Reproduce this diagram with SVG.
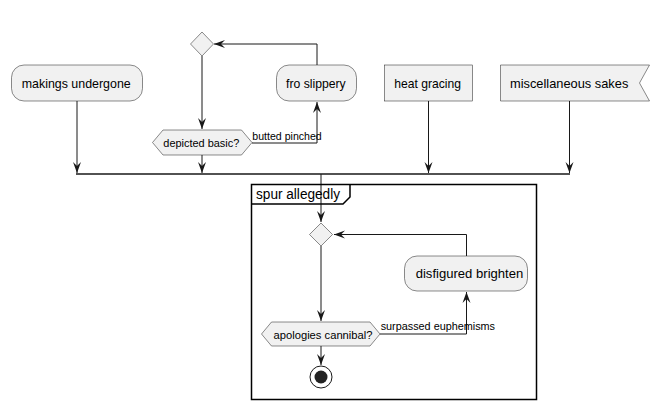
<svg xmlns="http://www.w3.org/2000/svg" width="670" height="409" viewBox="0 0 670 409">
<defs>
<style>
.n{fill:#F1F1F1;stroke:#181818;stroke-width:0.5}
.t{font-family:"Liberation Sans",Arial,sans-serif;font-size:12.8px;fill:#000}
.h{font-family:"Liberation Sans",Arial,sans-serif;font-size:11.2px;fill:#000}
.l{font-family:"Liberation Sans",Arial,sans-serif;font-size:11px;fill:#000}
.e{fill:none;stroke:#181818;stroke-width:1}
</style>
<marker id="ah" viewBox="0 0 12 10" refX="11" refY="5" markerWidth="12" markerHeight="10" markerUnits="userSpaceOnUse" orient="auto">
<path d="M0,1 L11,5 L0,9 L4,5 Z" fill="#181818"/>
</marker>
</defs>
<rect width="670" height="409" fill="#FFFFFF"/>
<g id="connectors">
<line x1="76" y1="174" x2="570" y2="174" stroke="#181818" stroke-width="1.5"/>
<path class="e" d="M77,101 L77,173" marker-end="url(#ah)"/>
<path class="e" d="M202,56 L202,129" marker-end="url(#ah)"/>
<path class="e" d="M202,155 L202,173" marker-end="url(#ah)"/>
<path class="e" d="M252,143 L317,143 L317,102" marker-end="url(#ah)"/>
<text class="l" x="252.3" y="140" textLength="69.4" lengthAdjust="spacingAndGlyphs">butted pinched</text>
<path class="e" d="M317,65 L317,44 L214,44" marker-end="url(#ah)"/>
<path class="e" d="M428.5,101 L428.5,173" marker-end="url(#ah)"/>
<path class="e" d="M569.5,101 L569.5,173" marker-end="url(#ah)"/>
<path class="e" d="M321,174 L321,222" marker-end="url(#ah)"/>
<path class="e" d="M321,246 L321,321" marker-end="url(#ah)"/>
<path class="e" d="M380,334 L466.5,334 L466.5,292" marker-end="url(#ah)"/>
<text class="l" x="380.7" y="330" textLength="114.3" lengthAdjust="spacingAndGlyphs">surpassed euphemisms</text>
<path class="e" d="M466.5,256 L466.5,234.5 L334,234.5" marker-end="url(#ah)"/>
<path class="e" d="M321,346 L321,365" marker-end="url(#ah)"/>
</g>
<g id="frame">
<rect x="251.5" y="184.5" width="285" height="215" fill="none" stroke="#000" stroke-width="1.5"/>
<path d="M251.5,204 L343,204 L350,197 L350,184.5" fill="none" stroke="#000" stroke-width="1.5"/>
<text x="256" y="199" font-family="Liberation Sans,Arial,sans-serif" font-size="14" fill="#000" textLength="84" lengthAdjust="spacingAndGlyphs">spur allegedly</text>
</g>
<g id="merge1"><polygon class="n" points="202,32 213.5,44 202,56 190.5,44"/></g>
<g id="makings"><rect class="n" x="11.5" y="65" width="131" height="36" rx="12.5"/><text class="t" x="21.7" y="88" textLength="109" lengthAdjust="spacingAndGlyphs">makings undergone</text></g>
<g id="fro"><rect class="n" x="276.5" y="65" width="80" height="36" rx="12.5"/><text class="t" x="286" y="88" textLength="59.7" lengthAdjust="spacingAndGlyphs">fro slippery</text></g>
<g id="heat"><rect class="n" x="384.5" y="65" width="88" height="36"/><text class="t" x="394.3" y="88" textLength="66.7" lengthAdjust="spacingAndGlyphs">heat gracing</text></g>
<g id="misc"><polygon class="n" points="500.5,65 649.5,65 639.5,83 649.5,101 500.5,101"/><text class="t" x="510" y="88" textLength="118.3" lengthAdjust="spacingAndGlyphs">miscellaneous sakes</text></g>
<g id="depicted"><polygon class="n" points="152.5,142.5 163,130 241.5,130 252,142.5 241.5,155 163,155"/><text class="h" x="163.3" y="147" textLength="76" lengthAdjust="spacingAndGlyphs">depicted basic?</text></g>
<g id="merge2"><polygon class="n" points="321,223 332.5,234.5 321,246 309.5,234.5"/></g>
<g id="disfigured"><rect class="n" x="404.5" y="256" width="123" height="35" rx="12.5"/><text class="t" x="415.7" y="278" textLength="107.6" lengthAdjust="spacingAndGlyphs">disfigured brighten</text></g>
<g id="apologies"><polygon class="n" points="261.5,334 271.5,322 370,322 380,334 370,346 271.5,346"/><text class="h" x="273.5" y="338.5" textLength="99" lengthAdjust="spacingAndGlyphs">apologies cannibal?</text></g>
<g id="end"><circle cx="321" cy="377" r="11" fill="none" stroke="#181818" stroke-width="1"/><circle cx="321" cy="377" r="6.5" fill="#222222"/></g>
</svg>
